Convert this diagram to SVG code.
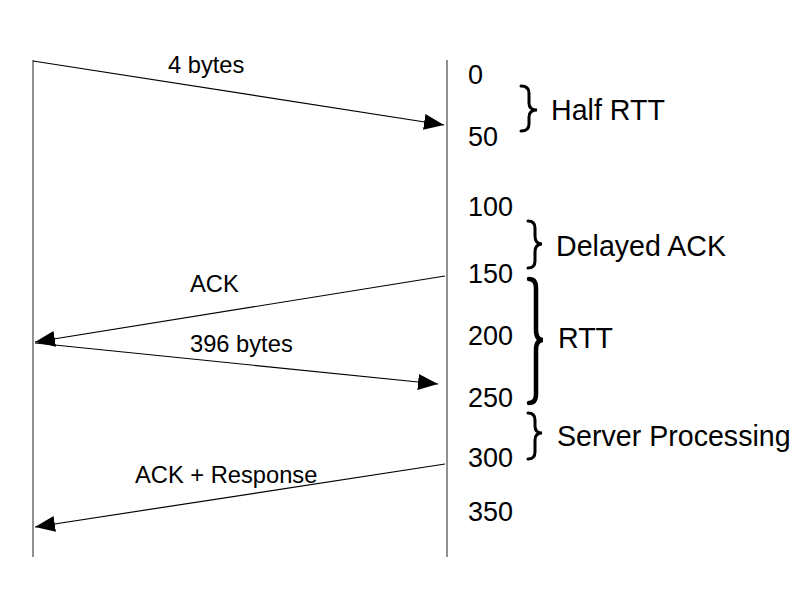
<svg xmlns="http://www.w3.org/2000/svg" width="808" height="595" viewBox="0 0 808 595">
<style>
text{font-family:"Liberation Sans",Arial,sans-serif;fill:#000}
.lbl{font-size:23.7px}
.num{font-size:27px}
.br{font-size:28.6px}
.life{stroke:#555;stroke-width:1.3;fill:none}
.msg{stroke:#000;stroke-width:1.2;fill:none;marker-end:url(#ah)}
.brace{stroke:#000;stroke-width:3;fill:none;stroke-linecap:round}
</style>
<defs>
<marker id="ah" markerUnits="userSpaceOnUse" markerWidth="22" markerHeight="18" refX="20" refY="8" orient="auto">
<path d="M0,0 L20,8 L0,16 z" fill="#000"/>
</marker>
</defs>
<rect width="808" height="595" fill="#fff"/>
<g id="client"><line class="life" x1="33" y1="60" x2="33" y2="557"/></g>
<g id="server"><line class="life" x1="447" y1="60" x2="447" y2="557"/></g>
<g id="connectors">
<line class="msg" x1="33" y1="61" x2="444" y2="125"/>
<line class="msg" x1="445" y1="276" x2="35" y2="342"/>
<line class="msg" x1="35" y1="343" x2="438" y2="384"/>
<line class="msg" x1="445" y1="464" x2="35" y2="527"/>
</g>
<g id="msg-labels">
<text class="lbl" x="168" y="73">4 bytes</text>
<text class="lbl" x="190" y="292">ACK</text>
<text class="lbl" x="190" y="352">396 bytes</text>
<text class="lbl" x="135" y="483">ACK + Response</text>
</g>
<g id="scale">
<text class="num" x="468" y="84">0</text>
<text class="num" x="468" y="146">50</text>
<text class="num" x="468" y="216">100</text>
<text class="num" x="468" y="283">150</text>
<text class="num" x="468" y="345">200</text>
<text class="num" x="468" y="407">250</text>
<text class="num" x="468" y="467">300</text>
<text class="num" x="468" y="521">350</text>
</g>
<g id="half-rtt">
<path class="brace" d="M521,86 Q529,86 529,93 L529,103 Q529,110 537,110 Q529,110 529,117 L529,124 Q529,131 521,131"/>
<text class="br" x="551" y="120">Half RTT</text>
</g>
<g id="delayed-ack">
<path class="brace" d="M528,221 Q535,221 535,228 L535,236 Q535,244 542,244 Q535,244 535,252 L535,261 Q535,268 528,268"/>
<text class="br" x="556" y="256">Delayed ACK</text>
</g>
<g id="rtt">
<path class="brace" style="stroke-width:4.5" d="M529,279 Q536,279 536,288 L536,330 Q536,340 543,340 Q536,340 536,350 L536,394 Q536,403 529,403"/>
<text class="br" x="558" y="348">RTT</text>
</g>
<g id="server-processing">
<path class="brace" d="M528,413 Q535,413 535,420 L535,426 Q535,433 542,433 Q535,433 535,440 L535,452 Q535,459 528,459"/>
<text class="br" x="557" y="446">Server Processing</text>
</g>
</svg>
